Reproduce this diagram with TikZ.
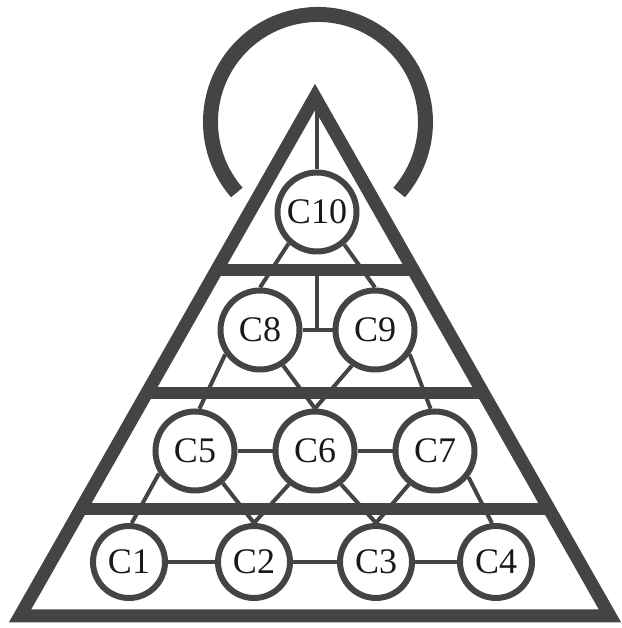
\documentclass[tikz,border=0pt]{standalone}
\usepackage{fontspec}
\setmainfont{Liberation Serif}
\usetikzlibrary{calc}
\definecolor{ink}{RGB}{68,68,68}
\definecolor{txt}{RGB}{25,25,25}
\begin{document}
\begin{tikzpicture}[x=1pt,y=1pt,
  frame/.style={draw=ink,line width=13pt,line join=miter},
  bar/.style={draw=ink,line width=12pt},
  halo/.style={draw=ink,line width=15pt},
  link/.style={draw=ink,line width=4pt},
  big/.style={circle,draw=ink,line width=6pt,fill=white,minimum size=79pt,inner sep=0pt,text=txt,font=\fontsize{36}{36}\selectfont},
  small/.style={big,minimum size=72pt}]
\useasboundingbox (0,0) rectangle (621,628);
\coordinate (apex) at (315,531);
\coordinate (bl) at (20,12);
\coordinate (br) at (610,12);
% halo arc
\draw[halo] (399.1,435.5) arc[start angle=-41, end angle=221, radius=107.5];
% triangle
\draw[frame] (apex) -- (bl) -- (br) -- cycle;
% bars
\draw[bar] ($(apex)!0.3333!(bl)$) -- ($(apex)!0.3333!(br)$);
\draw[bar] ($(apex)!0.5703!(bl)$) -- ($(apex)!0.5703!(br)$);
\draw[bar] ($(apex)!0.7938!(bl)$) -- ($(apex)!0.7938!(br)$);
% nodes
\node[big] (C10) at (317,416) {C10};
\node[big] (C8) at (260,298) {C8};
\node[big] (C9) at (375,298) {C9};
\node[big] (C5) at (195,177) {C5};
\node[big] (C6) at (315,177) {C6};
\node[big] (C7) at (435,177) {C7};
\node[small] (C1) at (129,66) {C1};
\node[small] (C2) at (254,66) {C2};
\node[small] (C3) at (376,66) {C3};
\node[small] (C4) at (496,66) {C4};
% links
\coordinate (tbar) at (317,358);
\coordinate (tmid) at (317,298);
\draw[link] (C10.north) -- (C10.north |- apex);
\draw[link] (tbar) -- (tmid);
\draw[link] (C8) -- (C9);
\draw[link] (C10.228) -- (C8.north);
\draw[link] (C10.310) -- (C9.north);
\draw[link] (C8.215) -- (C5.84);
\draw[link] (C8.303) -- (C6.north);
\draw[link] (C9.237) -- (C6.north);
\draw[link] (C9.325) -- (C7.96);
\draw[link] (C5) -- (C6);
\draw[link] (C6) -- (C7);
\draw[link] (C5.212) -- (C1.86);
\draw[link] (C5.311) -- (C2.north);
\draw[link] (C6.232) -- (C2.north);
\draw[link] (C6.308) -- (C3.north);
\draw[link] (C7.232) -- (C3.north);
\draw[link] (C7.322) -- (C4.96);
\draw[link] (C1) -- (C2);
\draw[link] (C2) -- (C3);
\draw[link] (C3) -- (C4);
\end{tikzpicture}
\end{document}
